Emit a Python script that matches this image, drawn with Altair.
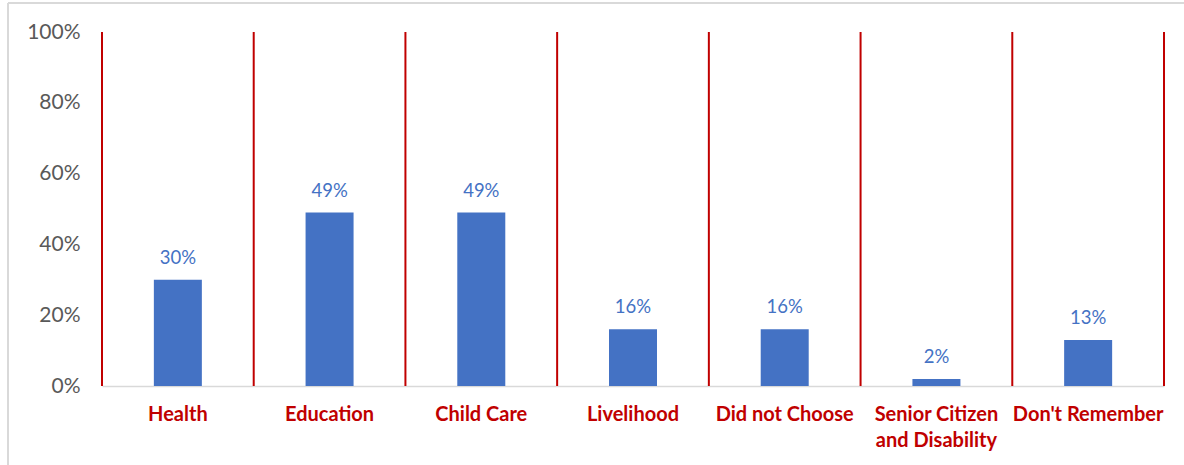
import altair as alt
import pandas as pd

# Share of respondents by support type
categories = [
    "Health",
    "Education",
    "Child Care",
    "Livelihood",
    "Did not Choose",
    "Senior Citizen and Disability",
    "Don't Remember",
]
shares = [0.30, 0.49, 0.49, 0.16, 0.16, 0.02, 0.13]
y_ticks = [0.0, 0.2, 0.4, 0.6, 0.8, 1.0]

BLUE = "#4472C4"
RED = "#C00000"
GREY_TEXT = "#595959"
GREY_LINE = "#D9D9D9"
FONT = "Lato"

W, H = 1062, 354

df = pd.DataFrame({"category": categories, "share": shares})
last = df.tail(1)
frame = pd.DataFrame({"k": [0]})

x_axis = alt.Axis(
    title=None,
    labelAngle=0,
    ticks=False,
    domainColor=GREY_LINE,
    domainWidth=1.5,
    labelColor=RED,
    labelFont=FONT,
    labelFontWeight="bold",
    labelFontSize=20,
    labelPadding=18,
    labelBaseline="top",
    labelLineHeight=26,
    labelLimit=300,
    labelExpr="datum.label == 'Senior Citizen and Disability' ? ['Senior Citizen', 'and Disability'] : datum.label",
)
x_scale = alt.Scale(domain=categories, paddingInner=0, paddingOuter=0)


def xenc(band_pos=None):
    kw = dict(sort=categories, scale=x_scale, axis=x_axis)
    if band_pos is not None:
        kw["bandPosition"] = band_pos
    return alt.X("category:N", **kw)


y_enc = alt.Y(
    "share:Q",
    scale=alt.Scale(domain=[0, 1]),
    axis=alt.Axis(
        title=None,
        values=y_ticks,
        format=".0%",
        grid=False,
        domain=False,
        ticks=False,
        labelColor=GREY_TEXT,
        labelFont=FONT,
        labelFontSize=21,
        labelPadding=22,
    ),
)

bars = alt.Chart(df).mark_bar(size=48, color=BLUE).encode(x=xenc(), y=y_enc)

labels = alt.Chart(df).mark_text(
    color=BLUE, font=FONT, fontSize=18.5, baseline="bottom", dy=-12
).encode(x=xenc(), y=y_enc, text=alt.Text("share:Q", format=".0%"))

# red separators at the start of each category band, plus the closing edge
separators = alt.Chart(df).mark_rule(color=RED, strokeWidth=2).encode(
    x=xenc(0), y=alt.value(0), y2=alt.value(H)
)
closing = alt.Chart(last).mark_rule(color=RED, strokeWidth=2).encode(
    x=xenc(1), y=alt.value(0), y2=alt.value(H)
)

# light outer frame of the chart box
frame_left = alt.Chart(frame).mark_rule(color=GREY_LINE, strokeWidth=2).encode(
    x=alt.value(-94), y=alt.value(-29), y2=alt.value(H + 90)
)
frame_top = alt.Chart(frame).mark_rule(color=GREY_LINE, strokeWidth=2).encode(
    x=alt.value(-94), x2=alt.value(W + 30), y=alt.value(-29)
)

chart = (
    alt.layer(frame_left, frame_top, separators, closing, bars, labels)
    .properties(
        width=W,
        height=H,
        background="white",
        autosize=alt.AutoSizeParams(type="none"),
        padding={"left": 102, "top": 32, "right": 20, "bottom": 79},
    )
    .configure_view(stroke=None)
)

chart.save("out.html", embed_options={"renderer": "svg", "actions": False})
